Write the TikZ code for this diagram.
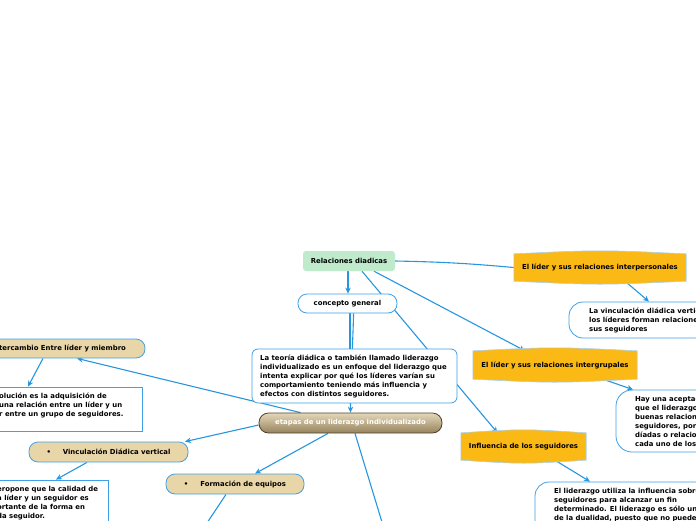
\documentclass[tikz,border=0pt]{standalone}
\usepackage{fontspec}
\setmainfont{DejaVu Sans}
\usetikzlibrary{arrows.meta}
\pgfdeclarelayer{lines}
\pgfdeclarelayer{shapes}
\pgfsetlayers{lines,shapes,main}
\definecolor{lineblue}{RGB}{38,150,222}
\definecolor{boxblue}{RGB}{62,160,230}
\definecolor{greenf}{RGB}{191,235,204}
\definecolor{orng}{RGB}{251,185,22}
\definecolor{tanf}{RGB}{233,214,168}
\definecolor{etopc}{RGB}{228,216,186}
\definecolor{ebotc}{RGB}{150,130,92}
\definecolor{eborder}{RGB}{80,66,44}
\begin{document}
\begin{tikzpicture}[x=1pt,y=-1pt,
  font=\fontsize{6.9}{9}\bfseries\selectfont,
  conn/.style={draw=lineblue, line width=1.1pt, -{Stealth[length=6pt,width=5.5pt]}},
  plainline/.style={draw=lineblue, line width=1.1pt},
  pill/.style={draw=boxblue, line width=0.8pt, fill=white, rounded corners=9pt, inner sep=0pt},
  tanpill/.style={pill, fill=tanf},
  notebox/.style={draw=boxblue, line width=0.8pt, fill=white, inner sep=0pt},
  orangebox/.style={inner sep=0pt},
  txt/.style={align=left, inner sep=0pt, anchor=west}
]
\useasboundingbox (0,0) rectangle (696,520);
\clip (0,0) rectangle (696,520);

% ---------- nodes ----------
\node[fill=greenf, rounded corners=3pt, minimum width=92pt, minimum height=20pt, inner sep=0pt] (rel) at (349,261) {Relaciones diadicas};
\node[pill, minimum width=99pt, minimum height=19pt] (cg) at (347.5,303.5) {concepto general};
\node[notebox, rounded corners=6pt, minimum width=205pt, minimum height=54pt] (tb) at (354.5,376) {};
\node[txt] (tbt) at (260,376) {La teoría diádica o también llamado liderazgo\\individualizado es un enfoque del liderazgo que\\intenta explicar por qué los líderes varían su\\comportamiento teniendo más influencia y\\efectos con distintos seguidores.};
\node[draw=eborder, line width=0.8pt, rounded corners=9.5pt, top color=etopc, bottom color=ebotc, text=white, minimum width=183pt, minimum height=20pt, inner sep=0pt] (et) at (350.5,423) {etapas de un liderazgo individualizado};

\node[orangebox, minimum width=172pt, minimum height=27pt] (ip) at (600,267.5) {El líder y sus relaciones interpersonales};
\node[notebox, rounded corners=14pt, minimum width=231pt, minimum height=36pt] (vr) at (684.5,320) {};
\node[txt] (vrt) at (589,320) {La vinculación diádica vertical\\los líderes forman relaciones\\sus seguidores};

\node[orangebox, minimum width=164pt, minimum height=28pt] (ig) at (555,365) {El líder y sus relaciones intergrupales};
\node[notebox, rounded corners=16pt, minimum width=184pt, minimum height=62pt] (hay) at (708,421) {};
\node[txt] (hayt) at (635,421) {Hay una aceptación\\que el liderazgo\\buenas relaciones\\seguidores, por\\díadas o relaciones\\cada uno de los};

\node[orangebox, minimum width=125pt, minimum height=27pt] (inf) at (523.5,446.5) {Influencia de los seguidores};
\node[notebox, rounded corners=14pt, minimum width=265pt, minimum height=118pt] (lid) at (667.5,541) {};
\node[txt, anchor=north west] (lidt) at (554,488) {El liderazgo utiliza la influencia sobre\\seguidores para alcanzar un fin\\determinado. El liderazgo es sólo una\\de la dualidad, puesto que no puede};

\node[tanpill, minimum width=195pt, minimum height=19pt] (inter) at (47.5,348.5) {};
\node[txt] (intert) at (-1,348.5) {tercambio Entre líder y miembro};
\node[notebox, minimum width=192pt, minimum height=44pt] (b12) at (46,409) {};
\node[txt, anchor=north west] (b12t) at (-1,393) {olución es la adquisición de\\una relación entre un líder y un\\r entre un grupo de seguidores.};

\node[tanpill, minimum width=159pt, minimum height=20pt] (vdv) at (108.5,452) {•\hspace{12pt}Vinculación Diádica vertical};
\node[notebox, minimum width=158pt, minimum height=80pt] (b14) at (29,520) {};
\node[txt, anchor=north west] (b14t) at (-3,486) {eropone que la calidad de\\a líder y un seguidor es\\ortante de la forma en\\da seguidor.};

\node[tanpill, minimum width=138pt, minimum height=20pt] (form) at (235,484) {•\hspace{12pt}Formación de equipos};

\coordinate (fe) at (201,532);
\coordinate (ee) at (385,532);

% ---------- orange shapes ----------
\begin{pgfonlayer}{shapes}
\foreach \n in {ip,ig,inf}{
  \fill[orng, draw=boxblue!45, line width=0.6pt]
    (\n.north west) .. controls ([yshift=4pt]\n.north) .. (\n.north east)
    -- (\n.south east) .. controls ([yshift=-4pt]\n.south) .. (\n.south west) -- cycle;
}
\end{pgfonlayer}

% ---------- connectors ----------
\begin{pgfonlayer}{lines}
\draw[conn] ([xshift=-1pt]rel.south) -- ([xshift=-1pt]rel.south |- cg.north);
\draw[conn] ([xshift=13pt]rel.south) -- ([xshift=-26pt]inf.north);
\draw[conn] ([xshift=25pt]rel.south) -- ([xshift=-30pt]ig.north);
\draw[plainline] (rel.east) to[bend left=2] (ip.west);
\draw[plainline] ([xshift=2.5pt]cg.south) -- ([xshift=-4.5pt]tb.north);
\draw[conn] ([xshift=6pt]cg.south) .. controls ([xshift=6pt,yshift=-15pt]cg.south) and ([yshift=30pt]et.north) .. (et.north);
\draw[conn] ([xshift=25pt]ip.south) -- ([xshift=-35.5pt]vr.north);
\draw[conn] ([xshift=48pt]ig.south) -- ([xshift=-75pt]hay.north);
\draw[conn] ([xshift=31.5pt]inf.south) -- ([xshift=-77.5pt]lid.north);
\draw[conn] ([xshift=-50pt]et.north) -- ([xshift=29.5pt]inter.south);
\draw[conn] ([xshift=-4.5pt]inter.south) -- ([xshift=-18pt]b12.north);
\draw[conn] ([yshift=-2pt]et.west) -- ([xshift=76.5pt]vdv.north);
\draw[conn] ([xshift=-21.5pt]vdv.south) -- ([xshift=27pt]b14.north);
\draw[conn] ([xshift=-22.5pt]et.south) -- ([xshift=20pt]form.north);
\draw[plainline] ([xshift=-9pt]form.south) -- (fe);
\draw[plainline] ([xshift=4.5pt]et.south) -- (ee);
\end{pgfonlayer}
\end{tikzpicture}
\end{document}
